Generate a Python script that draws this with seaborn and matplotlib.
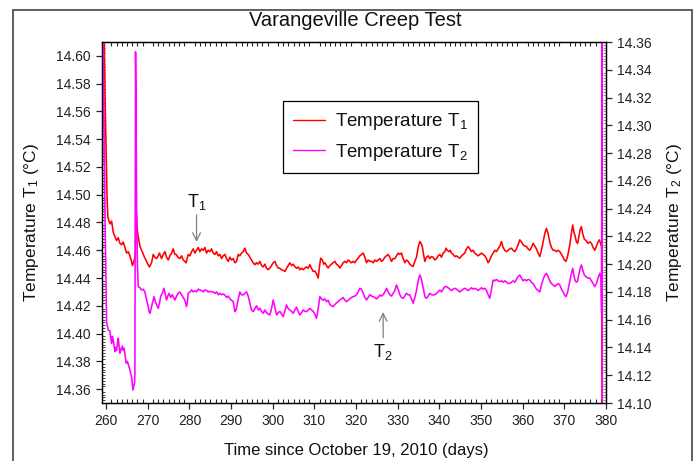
import matplotlib
matplotlib.use("Agg")
import matplotlib.pyplot as plt
import seaborn as sns
import pandas as pd
from matplotlib.ticker import MultipleLocator, FormatStrFormatter, FixedLocator
from matplotlib.patches import Rectangle

# ---------------- data ----------------
days_t1 = [
    259.1, 259.5, 259.8, 260.0, 260.2, 260.4, 260.9, 261.3, 261.7, 262.1, 262.5, 262.9, 263.3, 263.7,
    264.1, 264.5, 264.9, 265.3, 265.7, 266.0, 266.3, 266.75, 267.0, 267.2, 267.5, 267.8, 268.1, 268.5,
    268.8, 269.2, 269.7, 270.0, 270.4, 270.9, 271.3, 271.7, 272.1, 272.5, 272.8, 273.3, 273.7, 274.1,
    274.5, 274.9, 275.3, 275.7, 276.1, 276.5, 276.8, 277.2, 277.7, 278.1, 278.5, 278.9, 279.2, 279.7,
    280.1, 280.5, 280.9, 281.3, 281.7, 282.1, 282.5, 282.9, 283.3, 283.7, 284.1, 284.5, 284.9, 285.3,
    285.7, 286.1, 286.5, 286.9, 287.3, 287.7, 288.1, 288.5, 288.9, 289.3, 289.7, 290.1, 290.5, 290.9,
    291.3, 291.7, 292.1, 292.5, 292.9, 293.3, 293.7, 294.1, 294.5, 294.9, 295.3, 295.7, 296.1, 296.5,
    296.9, 297.3, 297.7, 298.1, 298.5, 298.9, 299.3, 299.7, 300.1, 300.5, 300.9, 301.3, 301.7, 302.1,
    302.5, 302.9, 303.3, 303.7, 304.1, 304.5, 304.9, 305.3, 305.7, 306.1, 306.5, 306.9, 307.3, 307.7,
    308.1, 308.5, 308.9, 309.3, 309.7, 310.1, 310.5, 310.9, 311.2, 311.5, 311.9, 312.2, 312.5, 312.9,
    313.3, 313.7, 314.1, 314.5, 314.9, 315.3, 315.7, 316.1, 316.5, 316.9, 317.3, 317.7, 318.1, 318.5,
    318.9, 319.3, 319.7, 320.1, 320.5, 320.9, 321.3, 321.7, 322.1, 322.5, 322.9, 323.3, 323.7, 324.1,
    324.5, 324.9, 325.3, 325.7, 326.1, 326.5, 326.9, 327.3, 327.7, 328.1, 328.5, 328.9, 329.3, 329.7,
    330.1, 330.5, 330.9, 331.3, 331.7, 332.1, 332.5, 332.9, 333.3, 333.7, 334.1, 334.5, 334.9, 335.3,
    335.6, 335.9, 336.2, 336.5, 336.9, 337.3, 337.7, 338.1, 338.5, 338.9, 339.3, 339.7, 340.1, 340.5,
    340.9, 341.3, 341.6, 341.9, 342.3, 342.6, 342.9, 343.3, 343.7, 344.1, 344.5, 344.9, 345.3, 345.7,
    346.1, 346.5, 346.9, 347.3, 347.7, 348.1, 348.5, 348.9, 349.3, 349.7, 350.1, 350.5, 350.9, 351.3,
    351.7, 352.1, 352.5, 352.9, 353.3, 353.7, 354.1, 354.5, 354.9, 355.3, 355.7, 356.1, 356.5, 356.9,
    357.3, 357.7, 358.1, 358.5, 358.9, 359.3, 359.7, 360.1, 360.5, 360.9, 361.3, 361.7, 362.1, 362.5,
    362.9, 363.3, 363.7, 364.1, 364.5, 364.9, 365.3, 365.7, 366.1, 366.5, 366.9, 367.3, 367.7, 368.1,
    368.5, 368.9, 369.3, 369.7, 370.0, 370.4, 370.8, 371.2, 371.6, 372.0, 372.3, 372.6, 372.9, 373.2,
    373.5, 373.8, 374.1, 374.4, 374.8, 375.2, 375.7, 376.1, 376.5, 376.9, 377.3, 377.7, 378.1, 378.4,
    378.7, 378.95, 379.1,
]
temp_t1 = [
    14.75, 14.62, 14.56, 14.53, 14.50, 14.484, 14.479, 14.481, 14.473, 14.470, 14.467, 14.469, 14.465, 14.464,
    14.466, 14.462, 14.458, 14.459, 14.456, 14.453, 14.449, 14.453, 14.456, 14.489, 14.474, 14.468, 14.463, 14.460,
    14.458, 14.455, 14.452, 14.450, 14.448, 14.451, 14.457, 14.455, 14.454, 14.456, 14.458, 14.454, 14.457, 14.459,
    14.455, 14.453, 14.456, 14.458, 14.461, 14.457, 14.457, 14.455, 14.454, 14.456, 14.453, 14.452, 14.451, 14.457,
    14.456, 14.459, 14.461, 14.458, 14.460, 14.462, 14.459, 14.461, 14.460, 14.462, 14.458, 14.460, 14.459, 14.461,
    14.458, 14.457, 14.459, 14.456, 14.457, 14.454, 14.456, 14.457, 14.454, 14.452, 14.455, 14.453, 14.454, 14.451,
    14.452, 14.457, 14.456, 14.458, 14.459, 14.4615, 14.458, 14.457, 14.455, 14.453, 14.451, 14.4496, 14.451, 14.450,
    14.452, 14.449, 14.448, 14.450, 14.447, 14.446, 14.4472, 14.449, 14.451, 14.452, 14.449, 14.4472, 14.447, 14.446,
    14.4455, 14.4448, 14.447, 14.449, 14.451, 14.449, 14.450, 14.4483, 14.447, 14.448, 14.446, 14.447, 14.446, 14.4472,
    14.448, 14.447, 14.4496, 14.447, 14.4448, 14.445, 14.443, 14.440, 14.448, 14.4543, 14.453, 14.450, 14.451, 14.449,
    14.4472, 14.449, 14.450, 14.451, 14.452, 14.450, 14.449, 14.4472, 14.449, 14.451, 14.452, 14.451, 14.453, 14.452,
    14.451, 14.452, 14.451, 14.453, 14.4543, 14.456, 14.457, 14.458, 14.455, 14.451, 14.453, 14.452, 14.452, 14.451,
    14.453, 14.452, 14.453, 14.454, 14.452, 14.453, 14.455, 14.456, 14.457, 14.455, 14.452, 14.454, 14.454, 14.456,
    14.458, 14.457, 14.458, 14.454, 14.451, 14.453, 14.452, 14.450, 14.449, 14.4483, 14.452, 14.455, 14.462, 14.4663,
    14.465, 14.4627, 14.457, 14.452, 14.455, 14.456, 14.454, 14.4555, 14.455, 14.453, 14.454, 14.456, 14.457, 14.455,
    14.458, 14.459, 14.4615, 14.460, 14.459, 14.460, 14.458, 14.457, 14.4555, 14.456, 14.455, 14.4543, 14.456, 14.457,
    14.458, 14.461, 14.4627, 14.461, 14.459, 14.460, 14.458, 14.457, 14.456, 14.457, 14.458, 14.457, 14.456, 14.454,
    14.451, 14.453, 14.456, 14.458, 14.460, 14.459, 14.461, 14.463, 14.4663, 14.462, 14.460, 14.459, 14.460, 14.461,
    14.4615, 14.460, 14.459, 14.461, 14.464, 14.4675, 14.466, 14.464, 14.463, 14.4627, 14.461, 14.460, 14.462, 14.465,
    14.463, 14.461, 14.458, 14.4555, 14.460, 14.466, 14.472, 14.4758, 14.472, 14.466, 14.462, 14.460, 14.460, 14.459,
    14.460, 14.459, 14.457, 14.455, 14.453, 14.452, 14.456, 14.462, 14.470, 14.4782, 14.473, 14.470, 14.466, 14.465,
    14.470, 14.475, 14.477, 14.472, 14.468, 14.467, 14.465, 14.466, 14.465, 14.462, 14.460, 14.463, 14.466, 14.4675,
    14.465, 14.462, 14.30,
]

days_t2 = [
    259.1, 259.4, 259.7, 259.95, 260.1, 260.5, 260.9, 261.1, 261.3, 261.5, 261.7, 261.9, 262.1, 262.3,
    262.5, 262.7, 262.9, 263.1, 263.3, 263.6, 263.9, 264.1, 264.3, 264.6, 264.8, 265.1, 265.4, 265.7,
    265.9, 266.1, 266.3, 266.45, 266.6, 266.8, 266.9, 267.05, 267.15, 267.3, 267.5, 267.7, 268.1, 268.5,
    268.9, 269.3, 269.7, 270.1, 270.3, 270.5, 270.8, 271.1, 271.5, 271.8, 272.1, 272.5, 272.8, 273.1,
    273.5, 273.9, 274.2, 274.5, 274.8, 275.1, 275.5, 275.9, 276.2, 276.5, 276.9, 277.3, 277.7, 278.1,
    278.5, 278.9, 279.3, 279.5, 279.7, 280.1, 280.5, 280.9, 281.3, 281.7, 282.1, 282.5, 282.9, 283.3,
    283.7, 284.1, 284.5, 284.9, 285.3, 285.7, 286.1, 286.5, 286.9, 287.3, 287.7, 288.1, 288.5, 288.9,
    289.3, 289.7, 290.1, 290.5, 290.9, 291.2, 291.5, 291.8, 292.1, 292.5, 292.9, 293.3, 293.7, 294.1,
    294.5, 294.9, 295.3, 295.7, 296.1, 296.5, 296.9, 297.3, 297.7, 298.1, 298.5, 298.9, 299.3, 299.7,
    300.1, 300.5, 300.9, 301.3, 301.7, 302.1, 302.5, 302.9, 303.3, 303.7, 304.1, 304.5, 304.9, 305.3,
    305.7, 306.1, 306.5, 306.9, 307.3, 307.7, 308.1, 308.5, 308.9, 309.3, 309.7, 310.1, 310.5, 310.9,
    311.3, 311.7, 312.1, 312.5, 312.9, 313.3, 313.7, 314.1, 314.5, 314.9, 315.3, 315.7, 316.1, 316.5,
    316.9, 317.3, 317.7, 318.1, 318.5, 318.9, 319.3, 319.7, 320.1, 320.5, 320.9, 321.3, 321.7, 322.1,
    322.5, 322.9, 323.3, 323.7, 324.1, 324.5, 324.9, 325.3, 325.7, 326.1, 326.5, 326.9, 327.3, 327.7,
    328.1, 328.5, 328.9, 329.3, 329.7, 330.1, 330.5, 330.9, 331.3, 331.7, 332.1, 332.5, 332.9, 333.3,
    333.7, 334.1, 334.5, 334.9, 335.3, 335.6, 335.9, 336.3, 336.6, 336.9, 337.3, 337.7, 338.1, 338.5,
    338.9, 339.3, 339.7, 340.1, 340.5, 340.9, 341.3, 341.7, 342.1, 342.5, 342.9, 343.3, 343.7, 344.1,
    344.5, 344.9, 345.3, 345.7, 346.1, 346.5, 346.9, 347.3, 347.7, 348.1, 348.5, 348.9, 349.3, 349.7,
    350.1, 350.5, 350.9, 351.3, 351.7, 352.1, 352.5, 352.9, 353.3, 353.7, 354.1, 354.5, 354.9, 355.3,
    355.7, 356.1, 356.5, 356.9, 357.3, 357.7, 358.1, 358.5, 358.9, 359.3, 359.7, 360.1, 360.5, 360.9,
    361.3, 361.7, 362.1, 362.5, 362.9, 363.3, 363.7, 364.1, 364.5, 364.9, 365.3, 365.7, 366.1, 366.5,
    366.9, 367.3, 367.7, 368.1, 368.5, 368.9, 369.3, 369.7, 370.0, 370.4, 370.8, 371.2, 371.6, 372.0,
    372.3, 372.6, 372.9, 373.2, 373.5, 373.8, 374.1, 374.4, 374.8, 375.2, 375.7, 376.1, 376.5, 376.9,
    377.3, 377.7, 378.1, 378.5, 378.8, 378.95, 379.05, 379.15,
]
temp_t2 = [
    14.50, 14.32, 14.24, 14.19, 14.158, 14.1526, 14.152, 14.147, 14.143, 14.148, 14.1454, 14.141, 14.137, 14.140,
    14.138, 14.143, 14.1466, 14.141, 14.1358, 14.139, 14.141, 14.138, 14.1394, 14.133, 14.1286, 14.130, 14.127, 14.1238,
    14.121, 14.119, 14.113, 14.1094, 14.112, 14.1142, 14.1214, 14.353, 14.325, 14.24, 14.20, 14.1838, 14.183, 14.1814,
    14.182, 14.180, 14.1742, 14.1694, 14.166, 14.1646, 14.168, 14.172, 14.1766, 14.173, 14.171, 14.1682, 14.172, 14.177,
    14.179, 14.1826, 14.178, 14.1742, 14.177, 14.179, 14.176, 14.178, 14.176, 14.1742, 14.177, 14.179, 14.180, 14.178,
    14.176, 14.174, 14.1694, 14.173, 14.179, 14.180, 14.1814, 14.180, 14.181, 14.180, 14.182, 14.1814, 14.181, 14.180,
    14.1815, 14.181, 14.180, 14.1805, 14.180, 14.180, 14.179, 14.180, 14.178, 14.179, 14.178, 14.1785, 14.1778, 14.176,
    14.177, 14.175, 14.174, 14.173, 14.1658, 14.167, 14.172, 14.176, 14.180, 14.178, 14.1778, 14.179, 14.180, 14.177,
    14.172, 14.167, 14.1658, 14.168, 14.170, 14.167, 14.1682, 14.166, 14.1646, 14.167, 14.165, 14.164, 14.1634, 14.168,
    14.1742, 14.169, 14.1634, 14.165, 14.166, 14.164, 14.1622, 14.166, 14.1706, 14.168, 14.167, 14.166, 14.1646, 14.167,
    14.169, 14.166, 14.1634, 14.165, 14.167, 14.166, 14.1658, 14.167, 14.1682, 14.167, 14.166, 14.164, 14.161, 14.168,
    14.1766, 14.175, 14.174, 14.175, 14.173, 14.174, 14.171, 14.170, 14.1694, 14.171, 14.172, 14.173, 14.1742, 14.175,
    14.176, 14.174, 14.173, 14.174, 14.175, 14.176, 14.1766, 14.177, 14.178, 14.180, 14.1826, 14.182, 14.179, 14.176,
    14.1742, 14.176, 14.178, 14.177, 14.1766, 14.176, 14.175, 14.176, 14.1778, 14.177, 14.178, 14.180, 14.1826, 14.180,
    14.178, 14.177, 14.179, 14.181, 14.185, 14.182, 14.178, 14.176, 14.1754, 14.177, 14.179, 14.178, 14.1778, 14.175,
    14.1718, 14.176, 14.181, 14.188, 14.1922, 14.190, 14.186, 14.180, 14.176, 14.1754, 14.177, 14.179, 14.178, 14.1778,
    14.178, 14.179, 14.180, 14.1814, 14.180, 14.182, 14.1838, 14.1838, 14.183, 14.182, 14.181, 14.182, 14.1826, 14.182,
    14.181, 14.180, 14.181, 14.182, 14.1826, 14.182, 14.181, 14.182, 14.183, 14.182, 14.1826, 14.182, 14.181, 14.182,
    14.183, 14.182, 14.1826, 14.181, 14.178, 14.1754, 14.182, 14.1886, 14.188, 14.189, 14.188, 14.1874, 14.188, 14.187,
    14.188, 14.187, 14.186, 14.1862, 14.187, 14.188, 14.187, 14.189, 14.191, 14.1922, 14.190, 14.188, 14.189, 14.188,
    14.189, 14.1886, 14.187, 14.186, 14.184, 14.182, 14.181, 14.180, 14.185, 14.189, 14.192, 14.1934, 14.191, 14.188,
    14.186, 14.185, 14.184, 14.185, 14.186, 14.185, 14.182, 14.180, 14.178, 14.1766, 14.180, 14.186, 14.192, 14.197,
    14.192, 14.188, 14.187, 14.188, 14.193, 14.197, 14.1994, 14.196, 14.192, 14.191, 14.1898, 14.190, 14.188, 14.186,
    14.1838, 14.186, 14.190, 14.1934, 14.190, 14.165, 14.50, 13.90,
]

x_ticks = [260, 270, 280, 290, 300, 310, 320, 330, 340, 350, 360, 370, 380]
left_ticks = [14.36, 14.38, 14.40, 14.42, 14.44, 14.46, 14.48, 14.50, 14.52, 14.54, 14.56, 14.58, 14.60]
right_ticks = [14.10, 14.12, 14.14, 14.16, 14.18, 14.20, 14.22, 14.24, 14.26, 14.28, 14.30, 14.32, 14.34, 14.36]

title = "Varangeville Creep Test"
xlabel = "Time since October 19, 2010 (days)"
label_t1 = r"Temperature T$_\mathregular{1}$"
label_t2 = r"Temperature T$_\mathregular{2}$"

# ---------------- style ----------------
sns.set_style("white")
plt.rcParams['font.family'] = ['Liberation Sans', 'DejaVu Sans']
plt.rcParams['mathtext.fontset'] = 'custom'
plt.rcParams['mathtext.rm'] = 'Liberation Sans'
plt.rcParams['mathtext.it'] = 'Liberation Sans:italic'
plt.rcParams['text.color'] = '#111111'

W, H = 697, 461
fig = plt.figure(figsize=(W / 100, H / 100), dpi=100)
fig.patch.set_facecolor('white')
ax = fig.add_axes([102 / W, 1 - 403 / H, 504 / W, 361 / H])
ax2 = ax.twinx()

df1 = pd.DataFrame({'day': days_t1, 'temp': temp_t1})
df2 = pd.DataFrame({'day': days_t2, 'temp': temp_t2})
sns.lineplot(data=df1, x='day', y='temp', ax=ax, color='#ff0000', lw=1.15,
             estimator=None, sort=False, legend=False)
sns.lineplot(data=df2, x='day', y='temp', ax=ax2, color='#ff00ff', lw=1.15,
             estimator=None, sort=False, legend=False)

ax.set_xlim(259, 380)
ax.set_ylim(14.35, 14.61)
ax2.set_ylim(14.10, 14.36)
ax.set_xlabel('')
ax.set_ylabel('')
ax2.set_ylabel('')

for a in (ax, ax2):
    for s in a.spines.values():
        s.set_linewidth(0.9)
        s.set_color('black')
        s.set_visible(True)

ax.xaxis.set_major_locator(FixedLocator(x_ticks))
ax.xaxis.set_minor_locator(MultipleLocator(1.25))
ax.yaxis.set_major_locator(FixedLocator(left_ticks))
ax.yaxis.set_minor_locator(MultipleLocator(0.002))
ax.yaxis.set_major_formatter(FormatStrFormatter('%.2f'))
ax2.yaxis.set_major_locator(FixedLocator(right_ticks))
ax2.yaxis.set_minor_locator(MultipleLocator(0.002))
ax2.yaxis.set_major_formatter(FormatStrFormatter('%.2f'))

ax.tick_params(axis='x', which='major', direction='out', length=4, width=0.9,
               labelsize=10, pad=4, top=False, bottom=True, labelcolor='#222222')
ax.tick_params(axis='x', which='minor', direction='in', length=3, width=0.8,
               top=True, bottom=True)
ax.tick_params(axis='y', which='major', direction='out', length=4, width=0.9,
               labelsize=10, pad=4, left=True, right=False, labelcolor='#222222')
ax.tick_params(axis='y', which='minor', direction='in', length=2.5, width=0.6,
               left=True, right=False)
ax2.tick_params(axis='y', which='major', direction='out', length=4, width=0.9,
                labelsize=10, pad=4, right=True, left=False, labelcolor='#222222')
ax2.tick_params(axis='y', which='minor', direction='in', length=2.5, width=0.6,
                color='#777777', right=True, left=False)

# labels
fig.text(355 / W, 1 - 20 / H, title, ha='center', va='center', fontsize=14.5)
fig.text(356 / W, 1 - 450 / H, xlabel, ha='center', va='center', fontsize=12)
fig.text(32 / W, 1 - 222 / H, r"Temperature T$_\mathregular{1}$ (°C)", rotation=90,
         ha='center', va='center', fontsize=12.5)
fig.text(674 / W, 1 - 222 / H, r"Temperature T$_\mathregular{2}$ (°C)", rotation=90,
         ha='center', va='center', fontsize=12.5)

# annotations
ax.text(281.7, 14.4945, r"T$_\mathregular{1}$", ha='center', va='center', fontsize=13)
ax.annotate('', xy=(281.7, 14.466), xytext=(281.7, 14.4855),
            arrowprops=dict(arrowstyle='->', color='#808080', lw=0.9,
                            shrinkA=0, shrinkB=0, mutation_scale=14))
ax.text(326.5, 14.387, r"T$_\mathregular{2}$", ha='center', va='center', fontsize=13)
ax.annotate('', xy=(326.5, 14.4155), xytext=(326.5, 14.397),
            arrowprops=dict(arrowstyle='->', color='#808080', lw=0.9,
                            shrinkA=0, shrinkB=0, mutation_scale=14))

# legend
h1 = ax.get_lines()[0]
h2 = ax2.get_lines()[0]
leg = ax2.legend([h1, h2], [label_t1, label_t2], loc='upper left',
                 bbox_to_anchor=((283 - 102) / 504, 1 - (101 - 42) / 361),
                 fontsize=13.5, frameon=True, fancybox=False, framealpha=1,
                 edgecolor='black', handlelength=1.7, handletextpad=0.5,
                 labelspacing=0.5, borderpad=0.55, borderaxespad=0)
leg.get_frame().set_linewidth(0.9)
for line in leg.get_lines():
    line.set_linewidth(1.0)

# outer frame
fig.add_artist(Rectangle((13 / W, -0.1), (692 - 13) / W, (H - 10) / H + 0.1,
                         transform=fig.transFigure, fill=False,
                         edgecolor='#444444', lw=1.2, clip_on=False))

fig.savefig('out.png', dpi=100)
